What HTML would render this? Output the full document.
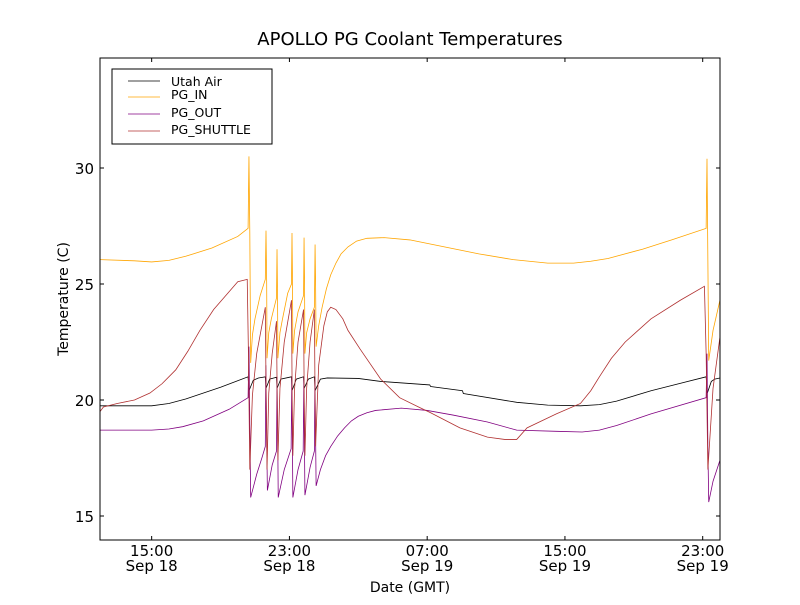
<!DOCTYPE html>
<html><head><meta charset="utf-8"><style>
body{margin:0;background:#fff;}
svg{font-family:"DejaVu Sans","Liberation Sans",sans-serif;}
</style></head><body>
<svg id="c" width="800" height="600" viewBox="0 0 800 600">
<rect width="800" height="600" fill="#fff"/>
<text x="410" y="45" font-size="18" text-anchor="middle">APOLLO PG Coolant Temperatures</text>
<g id="plot"></g>
<rect x="100" y="58" width="620" height="482" fill="none" stroke="#000" stroke-width="1"/>
<g id="ticks"></g>
<text x="410" y="592" font-size="14" text-anchor="middle">Date (GMT)</text>
<text transform="translate(68,299) rotate(-90)" font-size="14" text-anchor="middle">Temperature (C)</text>
<g>
<rect x="112" y="69" width="160" height="75" fill="#fff" stroke="#000" stroke-width="1"/>
<line x1="128" y1="81" x2="160" y2="81" stroke="#000" stroke-width="0.8"/>
<text x="171" y="86" font-size="12.5">Utah Air</text>
<line x1="128" y1="97" x2="160" y2="97" stroke="#ffa500" stroke-width="0.8"/>
<text x="171" y="99" font-size="12.5">PG_IN</text>
<line x1="128" y1="114" x2="160" y2="114" stroke="#800080" stroke-width="0.8"/>
<text x="171" y="117" font-size="12.5">PG_OUT</text>
<line x1="128" y1="131" x2="160" y2="131" stroke="#b03030" stroke-width="0.8"/>
<text x="171" y="134" font-size="12.5">PG_SHUTTLE</text>
</g>
</svg>
<script>
// hours since Sep 18 12:00 GMT
const yTicks=[15,20,25,30];
const xTickHours=[3,11,19,27,35];
const xTickTime=["15:00","23:00","07:00","15:00","23:00"];
const xTickDate=["Sep 18","Sep 18","Sep 19","Sep 19","Sep 19"];
const utahAir=[[0,19.75],[3,19.75],[4,19.85],[5,20.05],[7,20.55],[8.6,21.0],[8.65,20.4],[8.9,20.85],[9.2,20.95],[9.6,21.0],[9.64,20.5],[9.85,20.9],[10.25,20.98],[10.28,20.5],[10.5,20.9],[11.12,21.0],[11.15,20.4],[11.4,20.9],[11.82,21.0],[11.85,20.5],[12.1,20.9],[12.45,21.0],[12.49,20.4],[12.8,20.9],[13.2,20.95],[15,20.93],[16.3,20.8],[19.15,20.65],[19.2,20.58],[21.05,20.4],[21.1,20.28],[24.2,19.9],[26,19.78],[27.9,19.75],[29,19.8],[30,19.95],[32,20.4],[35.2,21.0],[35.27,20.3],[35.5,20.8],[35.7,20.9],[36,20.95]];
const pgIn=[[0,26.05],[2,26.0],[3,25.95],[4,26.02],[5,26.2],[6.5,26.55],[8,27.05],[8.6,27.4],[8.65,30.5],[8.7,27.2],[8.75,21.6],[8.85,22.8],[9.0,23.5],[9.3,24.5],[9.6,25.2],[9.64,27.3],[9.68,25],[9.7,21.8],[9.8,22.9],[9.95,23.5],[10.25,24.4],[10.28,26.5],[10.31,24.5],[10.33,21.8],[10.45,22.9],[10.6,23.5],[10.9,24.6],[11.12,25.0],[11.15,27.2],[11.18,25],[11.2,22.0],[11.3,23.0],[11.5,23.8],[11.82,24.5],[11.85,27.0],[11.88,25],[11.9,22.0],[12.0,22.9],[12.2,23.5],[12.45,24.0],[12.49,26.7],[12.52,25],[12.55,22.3],[12.7,23.2],[12.9,24.0],[13.15,24.8],[13.4,25.4],[13.7,25.9],[14,26.3],[14.4,26.6],[14.9,26.85],[15.5,26.97],[16.5,27.0],[18,26.9],[20,26.6],[22,26.3],[24,26.05],[26,25.9],[27.5,25.9],[28.5,25.98],[29.5,26.1],[31.5,26.5],[33.2,26.9],[35.2,27.4],[35.25,30.4],[35.3,26],[35.35,21.7],[35.6,23.0],[36,24.3]];
const pgOut=[[0,18.7],[3,18.7],[4,18.75],[4.8,18.85],[6,19.1],[7.5,19.6],[8.6,20.1],[8.65,22.3],[8.7,19],[8.75,15.8],[9.1,16.8],[9.4,17.5],[9.6,18.0],[9.63,21.5],[9.68,18.5],[9.72,16.1],[10.0,17.2],[10.25,17.8],[10.28,21],[10.32,18.5],[10.35,15.8],[10.7,17.0],[11.1,17.9],[11.14,21],[11.17,18.5],[11.2,15.8],[11.5,17.0],[11.8,17.8],[11.84,21],[11.87,18.5],[11.9,15.9],[12.2,17.1],[12.45,17.8],[12.48,21],[12.52,18.5],[12.55,16.3],[12.8,17.0],[13.1,17.6],[13.4,18.0],[13.8,18.45],[14.2,18.8],[14.6,19.1],[15,19.3],[15.5,19.45],[16,19.55],[17.5,19.65],[19,19.55],[20.5,19.35],[22.5,19.05],[24.2,18.7],[26.5,18.65],[28,18.62],[29,18.7],[30,18.9],[32,19.4],[35.2,20.1],[35.25,22],[35.3,18],[35.35,15.6],[35.6,16.5],[36,17.4]];
const pgShuttle=[[0,19.5],[0.2,19.7],[1,19.85],[2,20.0],[2.9,20.3],[3.6,20.7],[4.4,21.3],[5.1,22.1],[5.8,23.0],[6.6,23.9],[7.3,24.5],[8,25.1],[8.55,25.2],[8.62,22],[8.7,17.0],[8.85,20.2],[9.1,22.0],[9.6,24.0],[9.65,20],[9.7,17.0],[9.8,20.3],[10.0,22.0],[10.25,23.4],[10.29,20],[10.33,17.4],[10.45,20.5],[10.7,22.5],[11.12,24.3],[11.16,20],[11.2,17.6],[11.3,20.5],[11.5,22.5],[11.82,23.9],[11.86,20],[11.9,17.6],[12.0,20.5],[12.2,22.5],[12.45,23.9],[12.49,20],[12.52,18.0],[12.7,21.5],[13.0,23.2],[13.2,23.8],[13.4,24.0],[13.7,23.9],[14.1,23.5],[14.4,23.0],[15.1,22.2],[16.3,20.9],[17.4,20.1],[18.5,19.7],[19.2,19.45],[20.9,18.8],[22.5,18.4],[23.5,18.3],[24.2,18.3],[24.8,18.8],[26.5,19.4],[27.9,19.85],[28.5,20.4],[29,21.0],[29.7,21.8],[30.5,22.5],[32,23.5],[33.7,24.3],[35.1,24.9],[35.2,22],[35.3,17.0],[35.6,20.5],[36,22.7]];

const X0=100,PXH=17.22;
function xs(h){return X0+h*PXH;}
function ys(v){return 516-(v-15)*23.2;}
const NS="http://www.w3.org/2000/svg";
const plot=document.getElementById('plot');
function drawLine(data,color,name){
  const p=document.createElementNS(NS,'path');
  p.setAttribute('d',data.map((d,i)=>(i?'L':'M')+xs(d[0]).toFixed(2)+' '+ys(d[1]).toFixed(2)).join(' '));
  p.setAttribute('fill','none');p.setAttribute('stroke',color);p.setAttribute('stroke-width','0.8');
  
  
  plot.appendChild(p);
}
drawLine(utahAir,'#000','series-utah-air');
drawLine(pgIn,'#ffa500','series-pg-in');
drawLine(pgOut,'#800080','series-pg-out');
drawLine(pgShuttle,'#b03030','series-pg-shuttle');
const tk=document.getElementById('ticks');
function add(tag,attrs,txt){const e=document.createElementNS(NS,tag);for(const k in attrs)e.setAttribute(k,attrs[k]);if(txt!==undefined)e.textContent=txt;tk.appendChild(e);return e;}
yTicks.forEach(v=>{
  const y=ys(v);
  const a=add('line',{x1:100,x2:104,y1:y,y2:y,stroke:'#000'});
  
  
  const b=add('line',{x1:716,x2:720,y1:y,y2:y,stroke:'#000'});
  
  
  const t=add('text',{x:94,y:y+6,'font-size':15,'text-anchor':'end'},String(v));
  
  
});
xTickHours.forEach((h,i)=>{
  const x=xs(h);
  const a=add('line',{x1:x,x2:x,y1:540,y2:536,stroke:'#000'});
  
  
  const b=add('line',{x1:x,x2:x,y1:58,y2:62,stroke:'#000'});
  
  
  const t=add('text',{x:x,y:556,'font-size':15,'text-anchor':'middle'},xTickTime[i]);
  
  
  const d=add('text',{x:x,y:571,'font-size':15,'text-anchor':'middle'},xTickDate[i]);
  
  
});
</script>
</body></html>
